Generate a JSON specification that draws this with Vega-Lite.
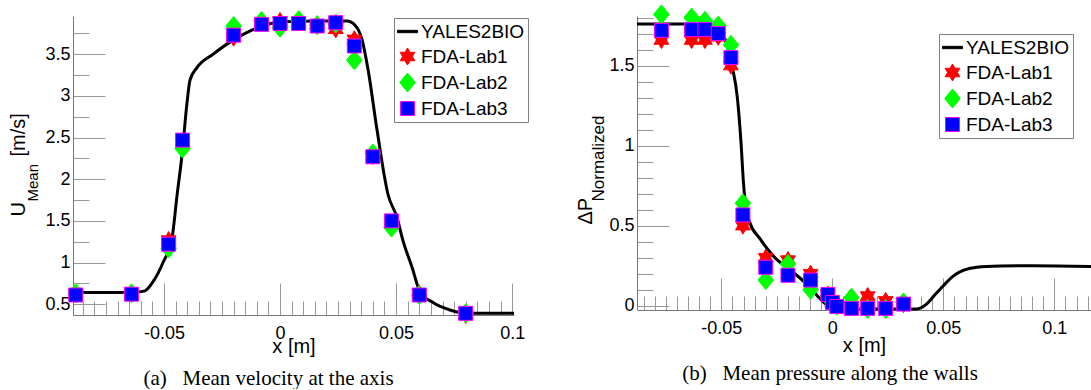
{
  "$schema": "https://vega.github.io/schema/vega-lite/v6.json",
  "padding": {"left": 8, "top": 2, "right": 0, "bottom": 0},
  "background": "white",
  "config": {
    "view": {"stroke": null},
    "font": "Liberation Sans",
    "axis": {
      "domainColor": "#777777", "domainWidth": 1,
      "tickColor": "#999999", "tickWidth": 1,
      "labelFont": "Liberation Sans", "labelFontSize": 18, "labelColor": "#000000",
      "titleFont": "Liberation Sans", "titleFontSize": 20, "titleFontWeight": "normal", "titleColor": "#000000",
      "grid": false, "labelOverlap": false, "labelFlush": false
    },
    "legend": {
      "labelFont": "Liberation Sans", "labelFontSize": 19, "labelColor": "#000000", "labelLimit": 0,
      "symbolSize": 400, "symbolStrokeWidth": 1, "strokeColor": "#808080", "strokeWidth": 1, "fillColor": "#ffffff",
      "padding": 3, "rowPadding": 4, "labelOffset": 3
    },
    "title": {"font": "Liberation Serif", "fontSize": 21, "fontWeight": "normal", "color": "#000000"}
  },
  "datasets": {
    "velCurve": [
      {"x": -0.0892, "y": 0.64}, {"x": -0.07, "y": 0.64}, {"x": -0.064, "y": 0.641}, {"x": -0.0612, "y": 0.646},
      {"x": -0.0582, "y": 0.66}, {"x": -0.0547, "y": 0.77}, {"x": -0.0504, "y": 1.0}, {"x": -0.0465, "y": 1.3},
      {"x": -0.0444, "y": 1.8}, {"x": -0.0422, "y": 2.3}, {"x": -0.0401, "y": 2.91}, {"x": -0.0388, "y": 3.19},
      {"x": -0.0358, "y": 3.34}, {"x": -0.0289, "y": 3.5}, {"x": -0.0202, "y": 3.67}, {"x": -0.0086, "y": 3.83},
      {"x": 0.0013, "y": 3.89}, {"x": 0.015, "y": 3.9}, {"x": 0.0289, "y": 3.9}, {"x": 0.0323, "y": 3.85},
      {"x": 0.0353, "y": 3.68}, {"x": 0.0379, "y": 3.32}, {"x": 0.0418, "y": 2.59}, {"x": 0.0465, "y": 1.82},
      {"x": 0.0504, "y": 1.54}, {"x": 0.053, "y": 1.26}, {"x": 0.0569, "y": 0.94}, {"x": 0.0603, "y": 0.65},
      {"x": 0.0659, "y": 0.52}, {"x": 0.0732, "y": 0.43}, {"x": 0.0806, "y": 0.39}, {"x": 0.1008, "y": 0.39}
    ],
    "velPts": [
      {"x": -0.088, "y": 0.62, "series": "FDA-Lab1"}, {"x": -0.064, "y": 0.63, "series": "FDA-Lab1"},
      {"x": -0.048, "y": 1.27, "series": "FDA-Lab1"}, {"x": -0.042, "y": 2.45, "series": "FDA-Lab1"},
      {"x": -0.02, "y": 3.7, "series": "FDA-Lab1"}, {"x": -0.008, "y": 3.88, "series": "FDA-Lab1"},
      {"x": 0, "y": 3.9, "series": "FDA-Lab1"}, {"x": 0.008, "y": 3.89, "series": "FDA-Lab1"},
      {"x": 0.016, "y": 3.86, "series": "FDA-Lab1"}, {"x": 0.024, "y": 3.8, "series": "FDA-Lab1"},
      {"x": 0.032, "y": 3.68, "series": "FDA-Lab1"}, {"x": 0.04, "y": 2.28, "series": "FDA-Lab1"},
      {"x": 0.048, "y": 1.47, "series": "FDA-Lab1"}, {"x": 0.06, "y": 0.63, "series": "FDA-Lab1"},
      {"x": 0.08, "y": 0.37, "series": "FDA-Lab1"},
      {"x": -0.088, "y": 0.63, "series": "FDA-Lab2"}, {"x": -0.064, "y": 0.63, "series": "FDA-Lab2"},
      {"x": -0.048, "y": 1.17, "series": "FDA-Lab2"}, {"x": -0.042, "y": 2.37, "series": "FDA-Lab2"},
      {"x": -0.02, "y": 3.84, "series": "FDA-Lab2"}, {"x": -0.008, "y": 3.9, "series": "FDA-Lab2"},
      {"x": 0, "y": 3.82, "series": "FDA-Lab2"}, {"x": 0.008, "y": 3.91, "series": "FDA-Lab2"},
      {"x": 0.016, "y": 3.85, "series": "FDA-Lab2"}, {"x": 0.024, "y": 3.87, "series": "FDA-Lab2"},
      {"x": 0.032, "y": 3.43, "series": "FDA-Lab2"}, {"x": 0.04, "y": 2.31, "series": "FDA-Lab2"},
      {"x": 0.048, "y": 1.42, "series": "FDA-Lab2"}, {"x": 0.06, "y": 0.61, "series": "FDA-Lab2"},
      {"x": 0.08, "y": 0.39, "series": "FDA-Lab2"},
      {"x": -0.088, "y": 0.61, "series": "FDA-Lab3"}, {"x": -0.064, "y": 0.62, "series": "FDA-Lab3"},
      {"x": -0.048, "y": 1.22, "series": "FDA-Lab3"}, {"x": -0.042, "y": 2.47, "series": "FDA-Lab3"},
      {"x": -0.02, "y": 3.73, "series": "FDA-Lab3"}, {"x": -0.008, "y": 3.86, "series": "FDA-Lab3"},
      {"x": 0, "y": 3.87, "series": "FDA-Lab3"}, {"x": 0.008, "y": 3.87, "series": "FDA-Lab3"},
      {"x": 0.016, "y": 3.84, "series": "FDA-Lab3"}, {"x": 0.024, "y": 3.88, "series": "FDA-Lab3"},
      {"x": 0.032, "y": 3.6, "series": "FDA-Lab3"}, {"x": 0.04, "y": 2.27, "series": "FDA-Lab3"},
      {"x": 0.048, "y": 1.5, "series": "FDA-Lab3"}, {"x": 0.06, "y": 0.61, "series": "FDA-Lab3"},
      {"x": 0.08, "y": 0.39, "series": "FDA-Lab3"}
    ],
    "presCurve": [
      {"x": -0.088, "y": 1.76}, {"x": -0.06, "y": 1.76}, {"x": -0.054, "y": 1.75}, {"x": -0.0505, "y": 1.72},
      {"x": -0.0477, "y": 1.64}, {"x": -0.0452, "y": 1.5}, {"x": -0.0428, "y": 1.3}, {"x": -0.0412, "y": 1.03},
      {"x": -0.04, "y": 0.76}, {"x": -0.039, "y": 0.62}, {"x": -0.0372, "y": 0.52}, {"x": -0.0327, "y": 0.42},
      {"x": -0.0259, "y": 0.3}, {"x": -0.0191, "y": 0.225}, {"x": -0.0116, "y": 0.135}, {"x": -0.0056, "y": 0.045},
      {"x": -0.0026, "y": 0.005}, {"x": 0, "y": -0.02}, {"x": 0.038, "y": -0.02}, {"x": 0.0424, "y": 0.01},
      {"x": 0.046, "y": 0.065}, {"x": 0.05, "y": 0.125}, {"x": 0.0544, "y": 0.185}, {"x": 0.0589, "y": 0.22},
      {"x": 0.065, "y": 0.24}, {"x": 0.0755, "y": 0.248}, {"x": 0.09, "y": 0.25}, {"x": 0.117, "y": 0.245}
    ],
    "presPts": [
      {"x": -0.077, "y": 1.66, "series": "FDA-Lab1"}, {"x": -0.0634, "y": 1.66, "series": "FDA-Lab1"},
      {"x": -0.0574, "y": 1.66, "series": "FDA-Lab1"}, {"x": -0.0514, "y": 1.68, "series": "FDA-Lab1"},
      {"x": -0.0457, "y": 1.5, "series": "FDA-Lab1"}, {"x": -0.0403, "y": 0.5, "series": "FDA-Lab1"},
      {"x": -0.03, "y": 0.3, "series": "FDA-Lab1"}, {"x": -0.02, "y": 0.285, "series": "FDA-Lab1"},
      {"x": -0.0098, "y": 0.2, "series": "FDA-Lab1"}, {"x": -0.002, "y": 0.07, "series": "FDA-Lab1"},
      {"x": 0, "y": 0.02, "series": "FDA-Lab1"}, {"x": 0.002, "y": 0.0, "series": "FDA-Lab1"},
      {"x": 0.0086, "y": 0.0, "series": "FDA-Lab1"}, {"x": 0.0159, "y": 0.06, "series": "FDA-Lab1"},
      {"x": 0.024, "y": 0.03, "series": "FDA-Lab1"}, {"x": 0.032, "y": 0.01, "series": "FDA-Lab1"},
      {"x": -0.077, "y": 1.82, "series": "FDA-Lab2"}, {"x": -0.0634, "y": 1.8, "series": "FDA-Lab2"},
      {"x": -0.0574, "y": 1.78, "series": "FDA-Lab2"}, {"x": -0.0514, "y": 1.75, "series": "FDA-Lab2"},
      {"x": -0.0457, "y": 1.63, "series": "FDA-Lab2"}, {"x": -0.0403, "y": 0.64, "series": "FDA-Lab2"},
      {"x": -0.03, "y": 0.16, "series": "FDA-Lab2"}, {"x": -0.02, "y": 0.26, "series": "FDA-Lab2"},
      {"x": -0.0098, "y": 0.1, "series": "FDA-Lab2"}, {"x": -0.002, "y": 0.06, "series": "FDA-Lab2"},
      {"x": 0, "y": 0.02, "series": "FDA-Lab2"}, {"x": 0.002, "y": 0.0, "series": "FDA-Lab2"},
      {"x": 0.0086, "y": 0.05, "series": "FDA-Lab2"}, {"x": 0.0159, "y": -0.02, "series": "FDA-Lab2"},
      {"x": 0.024, "y": -0.02, "series": "FDA-Lab2"}, {"x": 0.032, "y": 0.02, "series": "FDA-Lab2"},
      {"x": -0.077, "y": 1.72, "series": "FDA-Lab3"}, {"x": -0.0634, "y": 1.725, "series": "FDA-Lab3"},
      {"x": -0.0574, "y": 1.725, "series": "FDA-Lab3"}, {"x": -0.0514, "y": 1.7, "series": "FDA-Lab3"},
      {"x": -0.0457, "y": 1.55, "series": "FDA-Lab3"}, {"x": -0.0403, "y": 0.567, "series": "FDA-Lab3"},
      {"x": -0.03, "y": 0.24, "series": "FDA-Lab3"}, {"x": -0.02, "y": 0.19, "series": "FDA-Lab3"},
      {"x": -0.0098, "y": 0.16, "series": "FDA-Lab3"}, {"x": -0.002, "y": 0.07, "series": "FDA-Lab3"},
      {"x": 0, "y": 0.02, "series": "FDA-Lab3"}, {"x": 0.002, "y": -0.005, "series": "FDA-Lab3"},
      {"x": 0.0086, "y": -0.017, "series": "FDA-Lab3"}, {"x": 0.0159, "y": -0.017, "series": "FDA-Lab3"},
      {"x": 0.024, "y": -0.017, "series": "FDA-Lab3"}, {"x": 0.032, "y": 0.01, "series": "FDA-Lab3"}
    ]
  },
  "spacing": 123,
  "bounds": "flush",
  "resolve": {
    "scale": {"fill": "independent", "stroke": "independent", "shape": "independent"},
    "legend": {"fill": "independent", "stroke": "independent", "shape": "independent"}
  },
  "hconcat": [
    {
      "width": 441,
      "height": 299,
      "title": {"text": "(a)\u2002 Mean velocity at the axis", "orient": "bottom", "dx": -25, "offset": 8},
      "resolve": {"axis": {"y": "independent"}},
      "layer": [
        {
          "data": {"name": "velCurve"},
          "mark": {"type": "line", "color": "#000000", "strokeWidth": 3, "interpolate": "monotone"},
          "encoding": {
            "x": {
              "field": "x", "type": "quantitative",
              "scale": {"domain": [-0.0892, 0.1008], "nice": false, "zero": false},
              "axis": {
                "orient": "bottom", "title": "x [m]", "tickCount": 1000,
                "values": [-0.085, -0.08, -0.075, -0.07, -0.065, -0.06, -0.055, -0.05, -0.045, -0.04, -0.035, -0.03, -0.025, -0.02, -0.015, -0.01, -0.005, 0, 0.005, 0.01, 0.015, 0.02, 0.025, 0.03, 0.035, 0.04, 0.045, 0.05, 0.055, 0.06, 0.065, 0.07, 0.075, 0.08, 0.085, 0.09, 0.095, 0.1],
                "tickSize": {"expr": "abs(datum.value/0.05 - round(datum.value/0.05)) < 1e-6 ? -32 : -14"},
                "labelExpr": "abs(datum.value/0.05 - round(datum.value/0.05)) < 1e-6 ? '' + datum.value : ''",
                "labelPadding": 41, "labelOverlap": false, "labelFlush": false,
                "titleY": 37, "titleBaseline": "alphabetic"
              }
            },
            "y": {
              "field": "y", "type": "quantitative",
              "scale": {"domain": [0.37, 3.96], "nice": false, "zero": false},
              "axis": {
                "orient": "left", "tickCount": 1000,
                "values": [0.5, 0.75, 1, 1.25, 1.5, 1.75, 2, 2.25, 2.5, 2.75, 3, 3.25, 3.5, 3.75],
                "tickSize": {"expr": "abs(datum.value*2 - round(datum.value*2)) < 1e-6 ? -32 : -16"},
                "labelExpr": "abs(datum.value*2 - round(datum.value*2)) < 1e-6 ? '' + datum.value : ''",
                "labelPadding": 35, "labelOverlap": false, "labelFlush": false,
                "title": "U\u2003\u2003 [m/s]",
                "titleX": -49, "titleY": 200, "titleAngle": -90, "titleAlign": "left", "titleBaseline": "alphabetic"
              }
            }
          }
        },
        {
          "data": {"name": "velPts"},
          "mark": {"type": "point", "filled": true, "size": 400, "opacity": 1, "strokeWidth": 1},
          "encoding": {
            "x": {"field": "x", "type": "quantitative"},
            "y": {
              "field": "y", "type": "quantitative",
              "axis": {
                "orient": "left", "labels": false, "ticks": false, "domain": false,
                "title": "Mean", "titleFontSize": 15,
                "titleX": -36, "titleY": 185, "titleAngle": -90, "titleAlign": "left", "titleBaseline": "alphabetic"
              }
            },
            "shape": {
              "field": "series", "type": "nominal",
              "scale": {
                "domain": ["YALES2BIO", "FDA-Lab1", "FDA-Lab2", "FDA-Lab3"],
                "range": [
                  "M-1,-0.12L1,-0.12L1,0.12L-1,0.12Z",
                  "M0,-0.85L0.245,-0.425L0.736,-0.425L0.491,0L0.736,0.425L0.245,0.425L0,0.85L-0.245,0.425L-0.736,0.425L-0.491,0L-0.736,-0.425L-0.245,-0.425Z",
                  "M0,-0.95L0.78,0L0,0.95L-0.78,0Z",
                  "M-0.7,-0.7L0.7,-0.7L0.7,0.7L-0.7,0.7Z"
                ]
              },
              "legend": {"orient": "none", "legendX": 321, "legendY": 2, "title": null, "strokeColor": "#808080", "fillColor": "#ffffff"}
            },
            "fill": {
              "field": "series", "type": "nominal",
              "scale": {"domain": ["YALES2BIO", "FDA-Lab1", "FDA-Lab2", "FDA-Lab3"], "range": ["#000000", "#ff0000", "#00ff00", "#0000ff"]},
              "legend": {"orient": "none", "legendX": 321, "legendY": 2, "title": null, "strokeColor": "#808080", "fillColor": "#ffffff"}
            },
            "stroke": {
              "field": "series", "type": "nominal",
              "scale": {"domain": ["YALES2BIO", "FDA-Lab1", "FDA-Lab2", "FDA-Lab3"], "range": ["#000000", "#ff0000", "#00ff00", "#ff00ff"]},
              "legend": {"orient": "none", "legendX": 321, "legendY": 2, "title": null, "strokeColor": "#808080", "fillColor": "#ffffff"}
            }
          }
        }
      ]
    },
    {
      "width": 454,
      "height": 294,
      "title": {"text": "(b)\u2002 Mean pressure along the walls", "orient": "bottom", "dx": -34, "offset": 8},
      "resolve": {"axis": {"y": "independent"}},
      "layer": [
        {
          "data": {"name": "presCurve"},
          "mark": {"type": "line", "color": "#000000", "strokeWidth": 3, "interpolate": "monotone"},
          "encoding": {
            "x": {
              "field": "x", "type": "quantitative",
              "scale": {"domain": [-0.088, 0.1165], "nice": false, "zero": false},
              "axis": {
                "orient": "bottom", "title": "x [m]", "tickCount": 1000,
                "values": [-0.085, -0.08, -0.075, -0.07, -0.065, -0.06, -0.055, -0.05, -0.045, -0.04, -0.035, -0.03, -0.025, -0.02, -0.015, -0.01, -0.005, 0, 0.005, 0.01, 0.015, 0.02, 0.025, 0.03, 0.035, 0.04, 0.045, 0.05, 0.055, 0.06, 0.065, 0.07, 0.075, 0.08, 0.085, 0.09, 0.095, 0.1, 0.105, 0.11, 0.115],
                "tickSize": {"expr": "abs(datum.value/0.05 - round(datum.value/0.05)) < 1e-6 ? -32 : -14"},
                "labelExpr": "abs(datum.value/0.05 - round(datum.value/0.05)) < 1e-6 ? '' + datum.value : ''",
                "labelPadding": 41, "labelOverlap": false, "labelFlush": false,
                "titleY": 41, "titleBaseline": "alphabetic"
              }
            },
            "y": {
              "field": "y", "type": "quantitative",
              "scale": {"domain": [-0.027, 1.81], "nice": false, "zero": false},
              "axis": {
                "orient": "left", "tickCount": 1000,
                "values": [0, 0.1, 0.2, 0.3, 0.4, 0.5, 0.6, 0.7, 0.8, 0.9, 1, 1.1, 1.2, 1.3, 1.4, 1.5, 1.6, 1.7, 1.8],
                "tickSize": {"expr": "abs(datum.value*2 - round(datum.value*2)) < 1e-6 ? -32 : -16"},
                "labelExpr": "abs(datum.value*2 - round(datum.value*2)) < 1e-6 ? '' + datum.value : ''",
                "labelPadding": 35, "labelOverlap": false, "labelFlush": false,
                "title": "\u0394P",
                "titleX": -46, "titleY": 208, "titleAngle": -90, "titleAlign": "left", "titleBaseline": "alphabetic"
              }
            }
          }
        },
        {
          "data": {"name": "presPts"},
          "mark": {"type": "point", "filled": true, "size": 400, "opacity": 1, "strokeWidth": 1},
          "encoding": {
            "x": {"field": "x", "type": "quantitative"},
            "y": {
              "field": "y", "type": "quantitative",
              "axis": {
                "orient": "left", "labels": false, "ticks": false, "domain": false,
                "title": "Normalized", "titleFontSize": 17,
                "titleX": -34, "titleY": 185, "titleAngle": -90, "titleAlign": "left", "titleBaseline": "alphabetic"
              }
            },
            "shape": {
              "field": "series", "type": "nominal",
              "scale": {
                "domain": ["YALES2BIO", "FDA-Lab1", "FDA-Lab2", "FDA-Lab3"],
                "range": [
                  "M-1,-0.12L1,-0.12L1,0.12L-1,0.12Z",
                  "M0,-0.85L0.245,-0.425L0.736,-0.425L0.491,0L0.736,0.425L0.245,0.425L0,0.85L-0.245,0.425L-0.736,0.425L-0.491,0L-0.736,-0.425L-0.245,-0.425Z",
                  "M0,-0.95L0.78,0L0,0.95L-0.78,0Z",
                  "M-0.7,-0.7L0.7,-0.7L0.7,0.7L-0.7,0.7Z"
                ]
              },
              "legend": {"orient": "top-right", "offset": 18, "title": null, "strokeColor": "#808080", "fillColor": "#ffffff"}
            },
            "fill": {
              "field": "series", "type": "nominal",
              "scale": {"domain": ["YALES2BIO", "FDA-Lab1", "FDA-Lab2", "FDA-Lab3"], "range": ["#000000", "#ff0000", "#00ff00", "#0000ff"]},
              "legend": {"orient": "top-right", "offset": 18, "title": null, "strokeColor": "#808080", "fillColor": "#ffffff"}
            },
            "stroke": {
              "field": "series", "type": "nominal",
              "scale": {"domain": ["YALES2BIO", "FDA-Lab1", "FDA-Lab2", "FDA-Lab3"], "range": ["#000000", "#ff0000", "#00ff00", "#ff00ff"]},
              "legend": {"orient": "top-right", "offset": 18, "title": null, "strokeColor": "#808080", "fillColor": "#ffffff"}
            }
          }
        }
      ]
    }
  ]
}
